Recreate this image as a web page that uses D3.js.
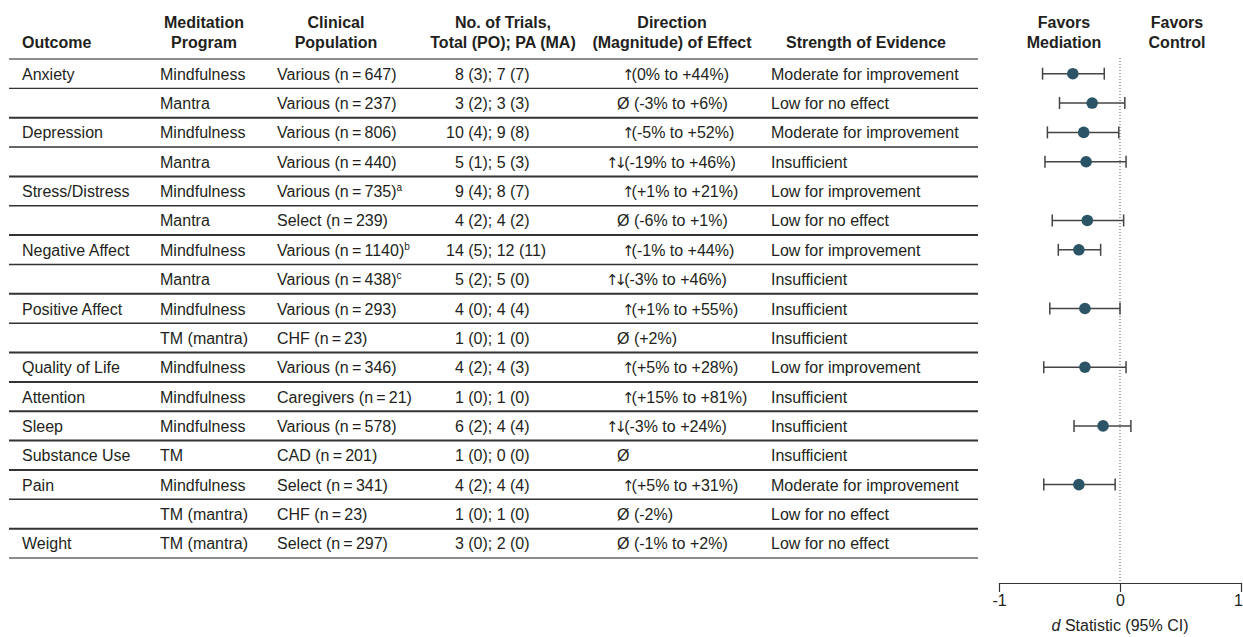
<!DOCTYPE html>
<html>
<head>
<meta charset="utf-8">
<script src="https://cdn.jsdelivr.net/npm/d3@7"></script>
<style>
  body { margin: 0; background: #fff; }
  svg text { font-family: "Liberation Sans", Arial, sans-serif; fill: #231f20; }
</style>
</head>
<body>
<div id="vis-container"></div>
<script>
// table data, one entry per row
let outcomes = ["Anxiety", "", "Depression", "", "Stress/Distress", "", "Negative Affect", "",
  "Positive Affect", "", "Quality of Life", "Attention", "Sleep", "Substance Use", "Pain", "", "Weight"];
let programs = ["Mindfulness", "Mantra", "Mindfulness", "Mantra", "Mindfulness", "Mantra", "Mindfulness", "Mantra",
  "Mindfulness", "TM (mantra)", "Mindfulness", "Mindfulness", "Mindfulness", "TM", "Mindfulness", "TM (mantra)", "TM (mantra)"];
let populations = ["Various (n\u2009=\u2009647)", "Various (n\u2009=\u2009237)", "Various (n\u2009=\u2009806)", "Various (n\u2009=\u2009440)",
  "Various (n\u2009=\u2009735)", "Select (n\u2009=\u2009239)", "Various (n\u2009=\u20091140)", "Various (n\u2009=\u2009438)",
  "Various (n\u2009=\u2009293)", "CHF (n\u2009=\u200923)", "Various (n\u2009=\u2009346)", "Caregivers (n\u2009=\u200921)",
  "Various (n\u2009=\u2009578)", "CAD (n\u2009=\u2009201)", "Select (n\u2009=\u2009341)", "CHF (n\u2009=\u200923)", "Select (n\u2009=\u2009297)"];
let footnotes = ["", "", "", "", "a", "", "b", "c", "", "", "", "", "", "", "", "", ""];
let trials = ["8 (3); 7 (7)", "3 (2); 3 (3)", "10 (4); 9 (8)", "5 (1); 5 (3)", "9 (4); 8 (7)", "4 (2); 4 (2)",
  "14 (5); 12 (11)", "5 (2); 5 (0)", "4 (0); 4 (4)", "1 (0); 1 (0)", "4 (2); 4 (3)", "1 (0); 1 (0)",
  "6 (2); 4 (4)", "1 (0); 0 (0)", "4 (2); 4 (4)", "1 (0); 1 (0)", "3 (0); 2 (0)"];
let directions = ["↑(0% to +44%)", "Ø (-3% to +6%)", "↑(-5% to +52%)", "↑↓(-19% to +46%)", "↑(+1% to +21%)",
  "Ø (-6% to +1%)", "↑(-1% to +44%)", "↑↓(-3% to +46%)", "↑(+1% to +55%)", "Ø (+2%)", "↑(+5% to +28%)",
  "↑(+15% to +81%)", "↑↓(-3% to +24%)", "Ø", "↑(+5% to +31%)", "Ø (-2%)", "Ø (-1% to +2%)"];
let evidence = ["Moderate for improvement", "Low for no effect", "Moderate for improvement", "Insufficient",
  "Low for improvement", "Low for no effect", "Low for improvement", "Insufficient", "Insufficient",
  "Insufficient", "Low for improvement", "Insufficient", "Insufficient", "Insufficient",
  "Moderate for improvement", "Low for no effect", "Low for no effect"];

// d statistic (95% CI), null where no pooled estimate
let dEst = [-0.39, -0.23, -0.30, -0.28, null, -0.27, -0.34, null, -0.29, null, -0.29, null, -0.14, null, -0.34, null, null];
let dLow = [-0.64, -0.50, -0.60, -0.62, null, -0.56, -0.51, null, -0.58, null, -0.63, null, -0.38, null, -0.63, null, null];
let dHigh = [-0.13, 0.04, -0.01, 0.05, null, 0.03, -0.16, null, 0.00, null, 0.05, null, 0.09, null, -0.04, null, null];

let xTicks = [-1, 0, 1];

let w = 1243;
let h = 637;

let svg = d3.select("#vis-container")
  .append("svg")
  .attr("width", w)
  .attr("height", h);

let rows = d3.range(outcomes.length);

let y = d3.scaleBand()
  .domain(rows)
  .range([59, 558]);

let x = d3.scaleLinear()
  .domain([-1, 1])
  .range([999, 1241]);

// headers
let headers = [
  {lines: ["", "Outcome"], x: 22, anchor: "start"},
  {lines: ["Meditation", "Program"], x: 204, anchor: "middle"},
  {lines: ["Clinical", "Population"], x: 336, anchor: "middle"},
  {lines: ["No. of Trials,", "Total (PO); PA (MA)"], x: 503, anchor: "middle"},
  {lines: ["Direction", "(Magnitude) of Effect"], x: 672, anchor: "middle"},
  {lines: ["", "Strength of Evidence"], x: 866, anchor: "middle"},
  {lines: ["Favors", "Mediation"], x: 1064, anchor: "middle"},
  {lines: ["Favors", "Control"], x: 1177, anchor: "middle"}
];

for (let hd of headers) {
  hd.lines.forEach((t, i) => {
    svg.append("text")
      .attr("x", hd.x)
      .attr("y", 28 + i * 20)
      .attr("text-anchor", hd.anchor)
      .style("font-size", "16px")
      .style("font-weight", "bold")
      .text(t);
  });
}

// row lines
svg.selectAll("line.row")
  .data(d3.range(outcomes.length + 1))
  .enter()
  .append("line")
  .attr("class", "row")
  .attr("x1", 9)
  .attr("x2", 978)
  .attr("y1", d => d === outcomes.length ? 558 : y(d))
  .attr("y2", d => d === outcomes.length ? 558 : y(d))
  .attr("stroke", d => (d === 0 || d === outcomes.length) ? "#666" : "#333")
  .attr("stroke-width", d => (d > 0 && d < outcomes.length && outcomes[d] !== "") ? 2 : 1.4);

function cy(i) { return y(i) + y.bandwidth() / 2; }

function addCol(arr, xp, anchor) {
  svg.selectAll(null)
    .data(rows)
    .enter()
    .append("text")
    .attr("x", typeof xp === "function" ? xp : () => xp)
    .attr("y", d => cy(d) + 6)
    .attr("text-anchor", anchor)
    .style("font-size", "16px")
    .text(d => arr[d]);
}

addCol(outcomes, 22, "start");
addCol(programs, 160, "start");

// population with footnote superscripts
let pop = svg.selectAll(null)
  .data(rows)
  .enter()
  .append("text")
  .attr("x", 277)
  .attr("y", d => cy(d) + 6)
  .style("font-size", "16px");
pop.append("tspan").text(d => populations[d]);
pop.append("tspan")
  .attr("dy", -6)
  .style("font-size", "10px")
  .text(d => footnotes[d]);

// trials: pad single digit totals with a figure space
let trialText = trials.map(t => (t.indexOf(" ") === 1 ? "\u2007" : "") + t);
addCol(trialText, 446, "start");

// direction column: arrows drawn in DejaVu so they reach cap height
let dirX = d => directions[d].startsWith("Ø") ? 617 : (directions[d].startsWith("↑↓") ? 606 : 622);
let dir = svg.selectAll(null)
  .data(rows)
  .enter()
  .append("text")
  .attr("x", dirX)
  .attr("y", d => cy(d) + 6)
  .style("font-size", "16px");
dir.append("tspan")
  .style("font-family", "'DejaVu Sans', sans-serif")
  .style("font-size", "15px")
  .style("letter-spacing", "-4px")
  .text(d => (directions[d].match(/^[↑↓]+/) || [""])[0]);
dir.append("tspan")
  .attr("dx", d => /^[↑↓]/.test(directions[d]) ? 1 : 0)
  .text(d => directions[d].replace(/^[↑↓]+/, ""));

addCol(evidence, 771, "start");

// forest plot
svg.append("line")
  .attr("x1", x(0))
  .attr("x2", x(0))
  .attr("y1", 58)
  .attr("y2", 583)
  .attr("stroke", "#555")
  .attr("stroke-width", 1)
  .attr("stroke-dasharray", "1,2");

let est = rows.filter(i => dEst[i] !== null);

let g = svg.selectAll("g.ci")
  .data(est)
  .enter()
  .append("g")
  .attr("class", "ci");

g.append("line")
  .attr("x1", d => x(dLow[d]))
  .attr("x2", d => x(dHigh[d]))
  .attr("y1", d => cy(d))
  .attr("y2", d => cy(d))
  .attr("stroke", "#444")
  .attr("stroke-width", 1.5);

g.append("line")
  .attr("x1", d => x(dLow[d]))
  .attr("x2", d => x(dLow[d]))
  .attr("y1", d => cy(d) - 6)
  .attr("y2", d => cy(d) + 6)
  .attr("stroke", "#444")
  .attr("stroke-width", 1.5);

g.append("line")
  .attr("x1", d => x(dHigh[d]))
  .attr("x2", d => x(dHigh[d]))
  .attr("y1", d => cy(d) - 6)
  .attr("y2", d => cy(d) + 6)
  .attr("stroke", "#444")
  .attr("stroke-width", 1.5);

g.append("circle")
  .attr("cx", d => x(dEst[d]))
  .attr("cy", d => cy(d))
  .attr("r", 5.8)
  .attr("fill", "#2b5566");

// x axis
let axis = svg.append("g")
  .attr("transform", "translate(0,583)")
  .call(d3.axisBottom(x).tickValues(xTicks).tickSize(9).tickSizeOuter(0).tickFormat(d3.format("d")));

axis.select(".domain").attr("stroke", "#333").attr("stroke-width", 1.2);
axis.selectAll(".tick line").attr("stroke", "#333").attr("stroke-width", 1.2);
axis.selectAll(".tick text")
  .style("font-size", "16px")
  .style("font-family", "'Liberation Sans', Arial, sans-serif")
  .attr("fill", "#231f20")
  .attr("dx", d => d === 1 ? -3 : 0)
  .text(d => d < 0 ? "-" + Math.abs(d) : d);

let lab = svg.append("text")
  .attr("x", x(0))
  .attr("y", 631)
  .attr("text-anchor", "middle")
  .style("font-size", "16px");
lab.append("tspan").style("font-style", "italic").text("d");
lab.append("tspan").text(" Statistic (95% CI)");
</script>
</body>
</html>
